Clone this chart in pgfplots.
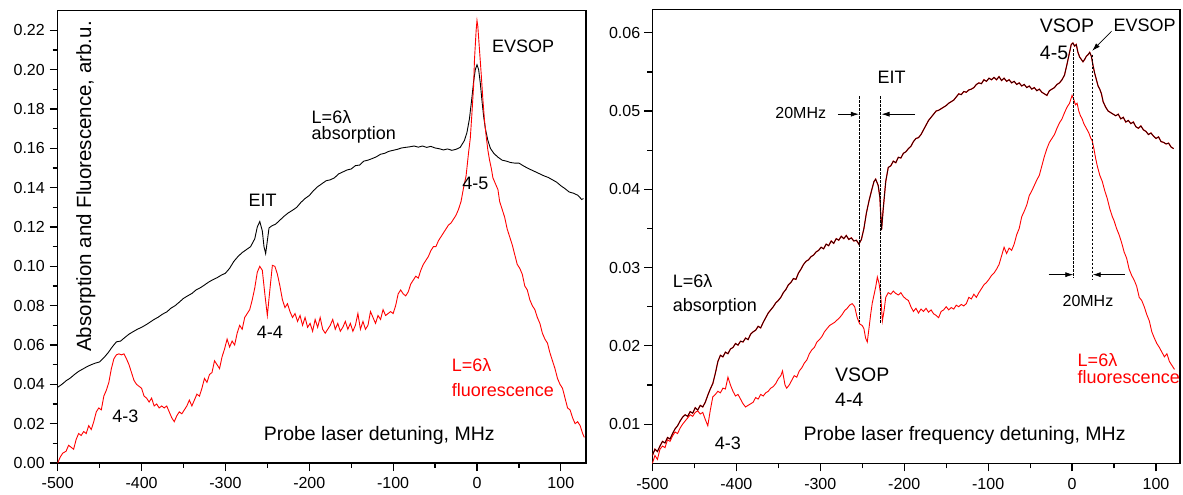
\documentclass[border=0pt]{standalone}
\usepackage{fontspec}
\setmainfont{Liberation Sans}
\usepackage{pgfplots}
\pgfplotsset{compat=1.18}
\usetikzlibrary{arrows.meta}
\newcommand{\fa}{\fontsize{18}{21}\selectfont}
\newcommand{\fb}{\fontsize{19.5}{23}\selectfont}
\newcommand{\ft}{\fontsize{16}{19}\selectfont}
\newcommand{\fy}{\fontsize{20.5}{24}\selectfont}
\pgfplotsset{
  myaxis/.style={
    anchor=south west, scale only axis, clip=false,
    axis line style={line width=1.3pt},
    every tick/.style={line width=1.2pt, black},
    major tick length=8pt, minor tick length=5pt,
    tick align=outside, tick pos=left,
    xmin=-500, xmax=130,
    xtick={-500,-400,-300,-200,-100,0,100},
    xticklabels={-500,-400,-300,-200,-100,0,100},
    minor x tick num=1, minor y tick num=1,
    ticklabel style={font=\ft},
    xticklabel style={yshift=-3pt},
  },
}
\tikzset{ann/.style={anchor=base west, font=\fa, inner sep=0pt}}
\begin{document}
\begin{tikzpicture}
\path[use as bounding box] (0,0) rectangle (1183pt,495pt);
% ---------------- left panel ----------------
\begin{axis}[myaxis,
  at={(57.7pt,32pt)}, width=528.3pt, height=452.3pt,
  ymin=0, ymax=0.23,
  ytick={0,0.02,0.04,0.06,0.08,0.10,0.12,0.14,0.16,0.18,0.20,0.22},
  yticklabels={0.00,0.02,0.04,0.06,0.08,0.10,0.12,0.14,0.16,0.18,0.20,0.22},
  yticklabel style={xshift=-1.4pt},
]
\addplot[black, line width=0.9pt] coordinates {
(-500,0.0385)(-495,0.0400)(-490,0.0418)(-485,0.0432)(-480,0.0450)(-475,0.0466)(-470,0.0478)(-465,0.0490)(-460,0.0500)(-455,0.0508)(-450,0.0514)(-445,0.0535)(-440,0.0560)(-435,0.0590)(-430,0.0616)(-425,0.0620)(-420,0.0638)(-415,0.0655)(-410,0.0668)(-405,0.0680)(-400,0.0690)(-395,0.0702)(-390,0.0716)(-385,0.0730)(-380,0.0742)(-375,0.0757)(-370,0.0768)(-365,0.0787)(-360,0.0800)(-355,0.0818)(-350,0.0837)(-345,0.0850)(-340,0.0862)(-335,0.0880)(-330,0.0891)(-325,0.0905)(-320,0.0920)(-315,0.0932)(-310,0.0942)(-305,0.0955)(-300,0.0965)(-295,0.0990)(-290,0.1025)(-285,0.1050)(-280,0.1070)(-275,0.1085)(-270,0.1100)(-265,0.1140)(-262,0.1200)(-259,0.1228)(-256,0.1180)(-254,0.1100)(-252,0.1065)(-250,0.1130)(-248,0.1195)(-245,0.1205)(-240,0.1215)(-235,0.1235)(-230,0.1255)(-225,0.1272)(-220,0.1285)(-215,0.1300)(-210,0.1325)(-205,0.1345)(-200,0.1360)(-195,0.1385)(-190,0.1405)(-185,0.1420)(-180,0.1435)(-175,0.1440)(-170,0.1450)(-165,0.1470)(-160,0.1480)(-155,0.1490)(-150,0.1495)(-145,0.1512)(-140,0.1515)(-135,0.1535)(-130,0.1540)(-125,0.1548)(-120,0.1557)(-115,0.1570)(-110,0.1575)(-105,0.1585)(-100,0.1590)(-95,0.1595)(-90,0.1602)(-85,0.1605)(-80,0.1608)(-75,0.1612)(-70,0.1606)(-65,0.1612)(-60,0.1605)(-55,0.1610)(-50,0.1602)(-45,0.1598)(-40,0.1592)(-35,0.1597)(-30,0.1590)(-25,0.1595)(-20,0.1605)(-15,0.1640)(-12,0.1680)(-9,0.1750)(-6,0.1860)(-4,0.1940)(-2,0.2000)(0,0.2025)(2,0.2000)(4,0.1930)(6,0.1840)(8,0.1760)(10,0.1700)(13,0.1640)(16,0.1600)(20,0.1575)(25,0.1555)(30,0.1540)(35,0.1535)(40,0.1528)(45,0.1525)(50,0.1525)(55,0.1512)(60,0.1500)(65,0.1490)(70,0.1480)(75,0.1470)(80,0.1460)(85,0.1452)(90,0.1440)(95,0.1428)(100,0.1410)(105,0.1395)(110,0.1378)(115,0.1372)(120,0.1362)(125,0.1340)(127,0.1345)
};
\addplot[red, line width=0.9pt] coordinates {
(-500,0.000)(-497,0.003)(-494,0.005)(-490,0.006)(-487,0.009)(-484,0.008)(-481,0.007)(-478,0.012)(-475,0.015)(-472,0.014)(-469,0.016)(-466,0.015)(-463,0.019)(-460,0.017)(-457,0.021)(-454,0.026)(-451,0.028)(-448,0.027)(-445,0.034)(-442,0.037)(-439,0.041)(-436,0.048)(-433,0.053)(-430,0.055)(-427,0.0555)(-424,0.055)(-421,0.0555)(-418,0.053)(-415,0.050)(-412,0.046)(-409,0.042)(-406,0.040)(-403,0.039)(-400,0.038)(-397,0.034)(-394,0.033)(-391,0.031)(-388,0.033)(-385,0.029)(-382,0.030)(-379,0.028)(-376,0.029)(-373,0.028)(-370,0.029)(-367,0.026)(-364,0.023)(-361,0.021)(-358,0.024)(-355,0.026)(-352,0.025)(-349,0.027)(-346,0.029)(-343,0.032)(-340,0.029)(-337,0.032)(-334,0.035)(-331,0.034)(-328,0.038)(-325,0.043)(-322,0.041)(-319,0.045)(-316,0.046)(-313,0.052)(-310,0.050)(-307,0.048)(-304,0.054)(-301,0.058)(-298,0.063)(-295,0.059)(-292,0.062)(-289,0.060)(-286,0.066)(-283,0.070)(-280,0.068)(-277,0.074)(-274,0.076)(-271,0.078)(-268,0.083)(-265,0.089)(-262,0.097)(-259,0.1000)(-256,0.098)(-253,0.086)(-250,0.075)(-247,0.088)(-244,0.1005)(-241,0.100)(-238,0.096)(-235,0.090)(-232,0.083)(-229,0.079)(-226,0.081)(-223,0.077)(-220,0.074)(-217,0.076)(-214,0.072)(-211,0.075)(-208,0.070)(-205,0.074)(-202,0.069)(-199,0.071)(-196,0.067)(-193,0.073)(-190,0.069)(-187,0.074)(-184,0.068)(-181,0.066)(-178,0.068)(-175,0.070)(-172,0.073)(-169,0.068)(-166,0.071)(-163,0.067)(-160,0.069)(-157,0.072)(-154,0.068)(-151,0.071)(-148,0.067)(-145,0.070)(-142,0.076)(-139,0.068)(-136,0.072)(-133,0.068)(-130,0.070)(-127,0.077)(-124,0.074)(-121,0.071)(-118,0.075)(-115,0.073)(-112,0.078)(-109,0.075)(-106,0.076)(-103,0.077)(-100,0.076)(-97,0.080)(-94,0.086)(-91,0.088)(-88,0.086)(-85,0.085)(-82,0.087)(-79,0.091)(-76,0.093)(-73,0.095)(-70,0.094)(-67,0.098)(-64,0.101)(-61,0.103)(-58,0.105)(-55,0.108)(-52,0.110)(-49,0.110)(-46,0.113)(-43,0.115)(-40,0.117)(-37,0.119)(-34,0.121)(-31,0.122)(-28,0.124)(-25,0.126)(-22,0.129)(-19,0.133)(-16,0.140)(-13,0.146)(-10,0.158)(-8,0.165)(-6,0.178)(-4,0.192)(-3,0.205)(-1,0.220)(0,0.225)(1,0.222)(3,0.210)(5,0.198)(7,0.185)(9,0.174)(11,0.166)(13,0.159)(15,0.154)(17,0.150)(19,0.145)(21,0.143)(23,0.141)(25,0.139)(27,0.133)(30,0.129)(33,0.125)(36,0.119)(39,0.115)(42,0.111)(45,0.106)(48,0.101)(51,0.099)(54,0.096)(57,0.090)(60,0.088)(63,0.083)(66,0.080)(69,0.078)(72,0.074)(75,0.071)(78,0.066)(81,0.063)(84,0.061)(87,0.056)(90,0.052)(93,0.048)(96,0.043)(99,0.040)(102,0.038)(105,0.033)(108,0.028)(111,0.027)(114,0.023)(117,0.020)(120,0.021)(123,0.019)(126,0.015)(128,0.013)
};
\node[ann] at (axis cs:17.7,0.2087) {EVSOP};
\node[ann] at (axis cs:-197.3,0.1728) {L=6λ};
\node[ann] at (axis cs:-197.3,0.1643) {absorption};
\node[ann] at (axis cs:-272.7,0.1304) {EIT};
\node[ann] at (axis cs:-17.6,0.1389) {4-5};
\node[ann] at (axis cs:-262.6,0.0634) {4-4};
\node[ann] at (axis cs:-435,0.0207) {4-3};
\node[ann, red] at (axis cs:-30.3,0.0465) {L=6λ};
\node[ann, red] at (axis cs:-30.3,0.0337) {fluorescence};
\node[anchor=base west, font=\fb, inner sep=0pt] at (axis cs:-254.5,0.0112) {Probe laser detuning, MHz};
\node[anchor=base west, font=\fy, inner sep=0pt, rotate=90] at (axis cs:-460,0.0565) {Absorption and Fluorescence, arb.u.};
\end{axis}
% ---------------- right panel ----------------
\begin{axis}[myaxis,
  at={(652.4pt,31.7pt)}, width=527.6pt, height=454pt,
  xmax=128.6,
  ymin=0.005, ymax=0.063,
  ytick={0.01,0.02,0.03,0.04,0.05,0.06},
  yticklabels={0.01,0.02,0.03,0.04,0.05,0.06},
  yticklabel style={xshift=-0.7pt},
]
\addplot[red, line width=0.9pt] coordinates {
(-500,0.0050)(-497,0.0060)(-494,0.0055)(-491,0.0068)(-488,0.0072)(-485,0.0070)(-482,0.0080)(-479,0.0078)(-476,0.0085)(-473,0.0090)(-470,0.0088)(-467,0.0095)(-464,0.0100)(-461,0.0104)(-458,0.0108)(-455,0.0112)(-452,0.0110)(-449,0.0115)(-446,0.0117)(-443,0.0113)(-440,0.0115)(-437,0.0106)(-434,0.0098)(-431,0.0118)(-428,0.0135)(-425,0.0138)(-422,0.0142)(-419,0.0140)(-416,0.0146)(-413,0.0145)(-410,0.0160)(-407,0.0150)(-404,0.0142)(-401,0.0136)(-398,0.0138)(-395,0.0132)(-392,0.0126)(-389,0.0122)(-386,0.0124)(-383,0.0126)(-380,0.0128)(-377,0.0134)(-374,0.0132)(-371,0.0138)(-368,0.0136)(-365,0.0140)(-362,0.0142)(-359,0.0146)(-356,0.0148)(-353,0.0152)(-350,0.0158)(-347,0.0162)(-345,0.0168)(-342,0.0150)(-340,0.0146)(-337,0.0150)(-334,0.0156)(-331,0.0162)(-328,0.0160)(-325,0.0168)(-322,0.0172)(-319,0.0178)(-316,0.0182)(-313,0.0190)(-310,0.0195)(-307,0.0198)(-304,0.0205)(-301,0.0208)(-298,0.0212)(-295,0.0218)(-292,0.0222)(-289,0.0226)(-286,0.0228)(-283,0.0230)(-280,0.0233)(-277,0.0236)(-274,0.0240)(-271,0.0245)(-268,0.0248)(-265,0.0252)(-262,0.0254)(-259,0.0250)(-256,0.0236)(-253,0.0228)(-250,0.0226)(-248,0.0222)(-246,0.0210)(-244,0.0205)(-242,0.0222)(-240,0.0240)(-238,0.0255)(-236,0.0265)(-234,0.0275)(-232,0.0288)(-230,0.0280)(-228,0.0265)(-226,0.0232)(-224,0.0245)(-222,0.0262)(-219,0.0268)(-216,0.0266)(-213,0.0270)(-210,0.0267)(-207,0.0265)(-204,0.0268)(-201,0.0263)(-198,0.0260)(-195,0.0258)(-192,0.0250)(-189,0.0244)(-186,0.0248)(-183,0.0242)(-180,0.0247)(-177,0.0244)(-174,0.0248)(-171,0.0243)(-168,0.0246)(-165,0.0241)(-162,0.0239)(-159,0.0236)(-156,0.0244)(-153,0.0246)(-150,0.0250)(-147,0.0246)(-144,0.0249)(-141,0.0247)(-138,0.0252)(-135,0.0250)(-132,0.0253)(-129,0.0251)(-126,0.0254)(-123,0.0262)(-120,0.0260)(-117,0.0266)(-114,0.0262)(-111,0.0268)(-108,0.0273)(-105,0.0278)(-102,0.0281)(-99,0.0285)(-96,0.0290)(-93,0.0293)(-90,0.0298)(-87,0.0304)(-84,0.0315)(-81,0.0326)(-78,0.0318)(-75,0.0325)(-72,0.0322)(-69,0.0330)(-66,0.0342)(-63,0.0350)(-60,0.0365)(-57,0.0372)(-54,0.0380)(-51,0.0392)(-48,0.0398)(-45,0.0405)(-42,0.0412)(-39,0.0418)(-36,0.0430)(-33,0.0442)(-30,0.0452)(-27,0.0460)(-24,0.0465)(-21,0.0470)(-18,0.0478)(-15,0.0485)(-12,0.0490)(-9,0.0498)(-6,0.0505)(-3,0.0510)(0,0.0520)(2,0.0515)(4,0.0508)(6,0.0510)(8,0.0500)(10,0.0494)(12,0.0490)(14,0.0484)(16,0.0480)(18,0.0476)(20,0.0472)(22,0.0466)(24,0.0462)(26,0.0452)(28,0.0440)(30,0.0430)(33,0.0418)(36,0.0410)(39,0.0398)(42,0.0388)(45,0.0375)(48,0.0365)(50,0.0360)(53,0.0350)(56,0.0342)(59,0.0332)(62,0.0320)(65,0.0312)(68,0.0298)(71,0.0290)(74,0.0284)(77,0.0276)(80,0.0262)(83,0.0258)(86,0.0250)(89,0.0240)(92,0.0232)(95,0.0218)(98,0.0210)(101,0.0203)(104,0.0198)(107,0.0192)(110,0.0186)(113,0.0190)(116,0.0180)(119,0.0175)(122,0.0170)
};
\addplot[red, line width=1.2pt] coordinates {
(-500,0.0060)(-497,0.0068)(-494,0.0065)(-491,0.0072)(-488,0.0078)(-485,0.0076)(-482,0.0083)(-479,0.0081)(-476,0.0088)(-473,0.0094)(-470,0.0098)(-467,0.0104)(-464,0.0109)(-461,0.0112)(-458,0.0110)(-455,0.0116)(-452,0.0114)(-449,0.0121)(-446,0.0118)(-443,0.0124)(-440,0.0122)(-437,0.0128)(-434,0.0137)(-431,0.0145)(-428,0.0152)(-425,0.0165)(-422,0.0180)(-419,0.0188)(-416,0.0186)(-413,0.0192)(-410,0.0190)(-407,0.0196)(-404,0.0198)(-401,0.0203)(-398,0.0201)(-395,0.0206)(-392,0.0205)(-389,0.0210)(-386,0.0208)(-383,0.0215)(-380,0.0218)(-377,0.0220)(-374,0.0225)(-371,0.0223)(-368,0.0230)(-365,0.0236)(-362,0.0242)(-359,0.0246)(-356,0.0250)(-353,0.0255)(-350,0.0258)(-347,0.0262)(-344,0.0268)(-341,0.0272)(-338,0.0278)(-335,0.0281)(-332,0.0286)(-329,0.0285)(-326,0.0293)(-323,0.0298)(-320,0.0304)(-317,0.0308)(-314,0.0310)(-311,0.0314)(-308,0.0316)(-305,0.0320)(-302,0.0322)(-299,0.0326)(-296,0.0324)(-293,0.0330)(-290,0.0328)(-287,0.0334)(-284,0.0331)(-281,0.0337)(-278,0.0335)(-275,0.0340)(-272,0.0337)(-269,0.0341)(-266,0.0336)(-263,0.0338)(-260,0.0334)(-257,0.0335)(-254,0.0330)(-251,0.0336)(-248,0.0350)(-245,0.0370)(-242,0.0385)(-239,0.0398)(-236,0.0410)(-234,0.0413)(-231,0.0405)(-229,0.0390)(-227,0.0348)(-225,0.0375)(-222,0.0410)(-219,0.0428)(-216,0.0430)(-213,0.0436)(-210,0.0434)(-207,0.0441)(-204,0.0440)(-201,0.0446)(-198,0.0448)(-195,0.0452)(-192,0.0455)(-189,0.0461)(-186,0.0465)(-183,0.0466)(-180,0.0470)(-177,0.0476)(-174,0.0482)(-171,0.0488)(-168,0.0492)(-165,0.0496)(-162,0.0500)(-159,0.0501)(-156,0.0503)(-153,0.0505)(-150,0.0507)(-147,0.0510)(-144,0.0512)(-141,0.0514)(-138,0.0518)(-135,0.0522)(-132,0.0521)(-129,0.0525)(-126,0.0524)(-123,0.0527)(-120,0.0528)(-117,0.0530)(-114,0.0534)(-111,0.0536)(-108,0.0535)(-105,0.0540)(-102,0.0538)(-99,0.0542)(-96,0.0540)(-93,0.0543)(-90,0.0540)(-87,0.0544)(-84,0.0539)(-81,0.0542)(-78,0.0538)(-75,0.0540)(-72,0.0536)(-69,0.0538)(-66,0.0534)(-63,0.0536)(-60,0.0532)(-57,0.0534)(-54,0.0530)(-51,0.0532)(-48,0.0528)(-45,0.0530)(-42,0.0526)(-39,0.0528)(-36,0.0524)(-33,0.0522)(-30,0.0520)(-27,0.0526)(-24,0.0528)(-21,0.0530)(-18,0.0534)(-15,0.0536)(-12,0.0540)(-9,0.0546)(-6,0.0560)(-3,0.0575)(-1,0.0585)(1,0.0587)(3,0.0583)(5,0.0585)(7,0.0575)(9,0.0569)(11,0.0566)(13,0.0563)(15,0.0566)(17,0.0570)(19,0.0572)(21,0.0575)(23,0.0570)(25,0.0558)(27,0.0548)(29,0.0540)(31,0.0532)(33,0.0528)(35,0.0522)(37,0.0512)(40,0.0505)(43,0.0500)(46,0.0498)(49,0.0496)(52,0.0494)(55,0.0496)(58,0.0490)(61,0.0492)(64,0.0486)(67,0.0488)(70,0.0484)(73,0.0486)(76,0.0480)(79,0.0478)(82,0.0481)(85,0.0476)(88,0.0474)(91,0.0470)(94,0.0472)(97,0.0468)(100,0.0465)(103,0.0467)(106,0.0461)(109,0.0460)(112,0.0458)(115,0.0459)(118,0.0454)(121,0.0452)
};
\addplot[black!92!red, line width=0.7pt] coordinates {
(-500,0.0060)(-497,0.0068)(-494,0.0065)(-491,0.0072)(-488,0.0078)(-485,0.0076)(-482,0.0083)(-479,0.0081)(-476,0.0088)(-473,0.0094)(-470,0.0098)(-467,0.0104)(-464,0.0109)(-461,0.0112)(-458,0.0110)(-455,0.0116)(-452,0.0114)(-449,0.0121)(-446,0.0118)(-443,0.0124)(-440,0.0122)(-437,0.0128)(-434,0.0137)(-431,0.0145)(-428,0.0152)(-425,0.0165)(-422,0.0180)(-419,0.0188)(-416,0.0186)(-413,0.0192)(-410,0.0190)(-407,0.0196)(-404,0.0198)(-401,0.0203)(-398,0.0201)(-395,0.0206)(-392,0.0205)(-389,0.0210)(-386,0.0208)(-383,0.0215)(-380,0.0218)(-377,0.0220)(-374,0.0225)(-371,0.0223)(-368,0.0230)(-365,0.0236)(-362,0.0242)(-359,0.0246)(-356,0.0250)(-353,0.0255)(-350,0.0258)(-347,0.0262)(-344,0.0268)(-341,0.0272)(-338,0.0278)(-335,0.0281)(-332,0.0286)(-329,0.0285)(-326,0.0293)(-323,0.0298)(-320,0.0304)(-317,0.0308)(-314,0.0310)(-311,0.0314)(-308,0.0316)(-305,0.0320)(-302,0.0322)(-299,0.0326)(-296,0.0324)(-293,0.0330)(-290,0.0328)(-287,0.0334)(-284,0.0331)(-281,0.0337)(-278,0.0335)(-275,0.0340)(-272,0.0337)(-269,0.0341)(-266,0.0336)(-263,0.0338)(-260,0.0334)(-257,0.0335)(-254,0.0330)(-251,0.0336)(-248,0.0350)(-245,0.0370)(-242,0.0385)(-239,0.0398)(-236,0.0410)(-234,0.0413)(-231,0.0405)(-229,0.0390)(-227,0.0348)(-225,0.0375)(-222,0.0410)(-219,0.0428)(-216,0.0430)(-213,0.0436)(-210,0.0434)(-207,0.0441)(-204,0.0440)(-201,0.0446)(-198,0.0448)(-195,0.0452)(-192,0.0455)(-189,0.0461)(-186,0.0465)(-183,0.0466)(-180,0.0470)(-177,0.0476)(-174,0.0482)(-171,0.0488)(-168,0.0492)(-165,0.0496)(-162,0.0500)(-159,0.0501)(-156,0.0503)(-153,0.0505)(-150,0.0507)(-147,0.0510)(-144,0.0512)(-141,0.0514)(-138,0.0518)(-135,0.0522)(-132,0.0521)(-129,0.0525)(-126,0.0524)(-123,0.0527)(-120,0.0528)(-117,0.0530)(-114,0.0534)(-111,0.0536)(-108,0.0535)(-105,0.0540)(-102,0.0538)(-99,0.0542)(-96,0.0540)(-93,0.0543)(-90,0.0540)(-87,0.0544)(-84,0.0539)(-81,0.0542)(-78,0.0538)(-75,0.0540)(-72,0.0536)(-69,0.0538)(-66,0.0534)(-63,0.0536)(-60,0.0532)(-57,0.0534)(-54,0.0530)(-51,0.0532)(-48,0.0528)(-45,0.0530)(-42,0.0526)(-39,0.0528)(-36,0.0524)(-33,0.0522)(-30,0.0520)(-27,0.0526)(-24,0.0528)(-21,0.0530)(-18,0.0534)(-15,0.0536)(-12,0.0540)(-9,0.0546)(-6,0.0560)(-3,0.0575)(-1,0.0585)(1,0.0587)(3,0.0583)(5,0.0585)(7,0.0575)(9,0.0569)(11,0.0566)(13,0.0563)(15,0.0566)(17,0.0570)(19,0.0572)(21,0.0575)(23,0.0570)(25,0.0558)(27,0.0548)(29,0.0540)(31,0.0532)(33,0.0528)(35,0.0522)(37,0.0512)(40,0.0505)(43,0.0500)(46,0.0498)(49,0.0496)(52,0.0494)(55,0.0496)(58,0.0490)(61,0.0492)(64,0.0486)(67,0.0488)(70,0.0484)(73,0.0486)(76,0.0480)(79,0.0478)(82,0.0481)(85,0.0476)(88,0.0474)(91,0.0470)(94,0.0472)(97,0.0468)(100,0.0465)(103,0.0467)(106,0.0461)(109,0.0460)(112,0.0458)(115,0.0459)(118,0.0454)(121,0.0452)
};
% dotted guide lines
\draw[black, line width=0.7pt, dash pattern=on 2.5pt off 1.5pt] (axis cs:-253,0.0519) -- (axis cs:-253,0.0231);
\draw[black, line width=0.7pt, dash pattern=on 2.5pt off 1.5pt] (axis cs:-228,0.0519) -- (axis cs:-228,0.0229);
\draw[black, line width=0.7pt, dash pattern=on 2.5pt off 1.5pt] (axis cs:2,0.0579) -- (axis cs:2,0.0287);
\draw[black, line width=0.7pt, dash pattern=on 2.5pt off 1.5pt] (axis cs:23.6,0.0572) -- (axis cs:23.6,0.0285);
% arrows
\draw[-{Latex[length=8pt,width=5pt]}, line width=0.7pt] (axis cs:-279,0.0496) -- (axis cs:-254,0.0496);
\draw[-{Latex[length=8pt,width=5pt]}, line width=0.7pt] (axis cs:-187,0.0496) -- (axis cs:-227,0.0496);
\draw[-{Latex[length=8pt,width=5pt]}, line width=0.7pt] (axis cs:-28,0.0291) -- (axis cs:1.5,0.0291);
\draw[-{Latex[length=8pt,width=5pt]}, line width=0.7pt] (axis cs:63,0.0291) -- (axis cs:24.5,0.0291);
\draw[-{Latex[length=8pt,width=5pt]}, line width=0.7pt] (axis cs:47,0.0602) -- (axis cs:24,0.0577);
% labels
\node[ann, font=\fb] at (axis cs:-38.5,0.0600) {VSOP};
\node[ann, font=\fb] at (axis cs:-38.5,0.0566) {4-5};
\node[ann] at (axis cs:49.3,0.0602) {EVSOP};
\node[ann] at (axis cs:-232,0.0535) {EIT};
\node[ann, font=\ft] at (axis cs:-353.7,0.0490) {20MHz};
\node[ann, font=\ft] at (axis cs:-11.5,0.0250) {20MHz};
\node[ann] at (axis cs:-476,0.0274) {L=6λ};
\node[ann] at (axis cs:-476,0.0244) {absorption};
\node[ann, font=\fb] at (axis cs:-282.5,0.0155) {VSOP};
\node[ann, font=\fb] at (axis cs:-282.5,0.0122) {4-4};
\node[ann] at (axis cs:-425.7,0.0068) {4-3};
\node[ann, red] at (axis cs:6.5,0.0174) {L=6λ};
\node[ann, red] at (axis cs:6.5,0.0152) {fluorescence};
\node[anchor=base west, font=\fb, inner sep=0pt] at (axis cs:-320,0.0079) {Probe laser frequency detuning, MHz};
\end{axis}
\end{tikzpicture}
\end{document}
